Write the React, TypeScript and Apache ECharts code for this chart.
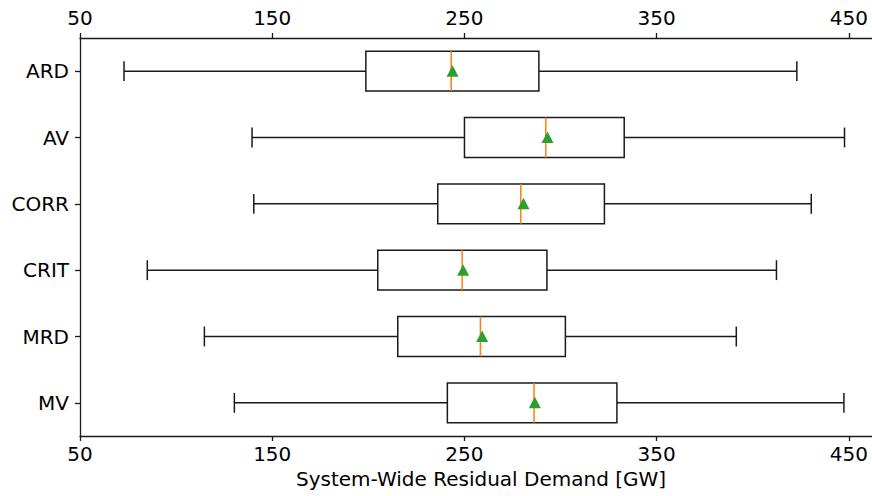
import React, { useEffect, useRef } from "react";
import * as echarts from "echarts";

const categories = ["ARD", "AV", "CORR", "CRIT", "MRD", "MV"];
const whiskerLow = [72.9, 139.5, 140.4, 85.0, 114.7, 130.3];
const q1 = [198.7, 250.0, 236.1, 204.9, 215.3, 241.1];
const medians = [243.1, 292.3, 279.3, 248.8, 258.3, 286.2];
const means = [243.8, 293.2, 280.7, 249.3, 259.2, 286.6];
const q3 = [288.7, 333.1, 322.8, 292.9, 302.5, 329.3];
const whiskerHigh = [422.9, 447.7, 430.4, 412.3, 391.4, 447.4];
const tickValues = [50, 150, 250, 350, 450];

const FONT = "DejaVu Sans";
const LINE = "#1a1a1a";
const FS = 20;

export default function App() {
  const ref = useRef<HTMLDivElement>(null);
  useEffect(() => {
    if (!ref.current) return;
    const chart = echarts.init(ref.current, undefined, { renderer: "svg" });
    const data = categories.map((_, i) => [
      i,
      whiskerLow[i],
      q1[i],
      medians[i],
      q3[i],
      whiskerHigh[i],
      means[i],
    ]);
    const xCommon = {
      type: "value" as const,
      min: 50,
      max: 462,
      splitLine: { show: false },
      axisLine: { show: true, lineStyle: { color: LINE, width: 1.3 } },
      axisTick: {
        show: true,
        length: 5,
        inside: false,
        customValues: tickValues,
        lineStyle: { color: LINE, width: 1.3 },
      },
      axisLabel: {
        customValues: tickValues,
        color: "#000",
        fontFamily: FONT,
        fontSize: FS,
      },
    };
    chart.setOption({
      animation: false,
      grid: { left: 80, top: 38, right: 0, bottom: 60, containLabel: false },
      xAxis: [
        {
          ...xCommon,
          position: "bottom",
          axisLabel: { ...xCommon.axisLabel, margin: 8 },
          name: "System-Wide Residual Demand [GW]",
          nameLocation: "middle",
          nameGap: 32,
          nameTextStyle: {
            color: "#000",
            fontFamily: FONT,
            fontSize: FS,
            padding: [0, 0, 0, 10],
          },
        },
        { ...xCommon, position: "top", axisLabel: { ...xCommon.axisLabel, margin: 10 } },
      ],
      yAxis: {
        type: "category",
        data: categories,
        inverse: true,
        boundaryGap: true,
        axisLine: { show: true, lineStyle: { color: LINE, width: 1.3 } },
        axisTick: {
          show: true,
          length: 5,
          alignWithLabel: true,
          lineStyle: { color: LINE, width: 1.3 },
        },
        axisLabel: { color: "#000", fontFamily: FONT, fontSize: FS, margin: 11 },
        splitLine: { show: false },
      },
      series: [
        {
          type: "custom",
          xAxisIndex: 0,
          yAxisIndex: 0,
          encode: { x: [1, 2, 3, 4, 5, 6], y: 0 },
          data,
          renderItem: (params: any, api: any) => {
            const idx = api.value(0);
            const lo = api.coord([api.value(1), idx]);
            const a = api.coord([api.value(2), idx]);
            const m = api.coord([api.value(3), idx]);
            const b = api.coord([api.value(4), idx]);
            const hi = api.coord([api.value(5), idx]);
            const mn = api.coord([api.value(6), idx]);
            const band = api.size([0, 1])[1];
            const bh = band * 0.6;
            const ch = bh / 2;
            const cy = lo[1];
            const ls = { stroke: LINE, lineWidth: 1.5, fill: "none" };
            return {
              type: "group",
              children: [
                { type: "line", shape: { x1: lo[0], y1: cy, x2: a[0], y2: cy }, style: ls },
                { type: "line", shape: { x1: b[0], y1: cy, x2: hi[0], y2: cy }, style: ls },
                { type: "line", shape: { x1: lo[0], y1: cy - ch / 2, x2: lo[0], y2: cy + ch / 2 }, style: ls },
                { type: "line", shape: { x1: hi[0], y1: cy - ch / 2, x2: hi[0], y2: cy + ch / 2 }, style: ls },
                {
                  type: "rect",
                  shape: { x: a[0], y: cy - bh / 2, width: b[0] - a[0], height: bh },
                  style: { stroke: LINE, lineWidth: 1.5, fill: "#fff" },
                },
                {
                  type: "line",
                  shape: { x1: m[0], y1: cy - bh / 2, x2: m[0], y2: cy + bh / 2 },
                  style: { stroke: "#ff7f0e", lineWidth: 1.5 },
                },
                {
                  type: "polygon",
                  shape: {
                    points: [
                      [mn[0], cy - 6],
                      [mn[0] - 6, cy + 5.5],
                      [mn[0] + 6, cy + 5.5],
                    ],
                  },
                  style: { fill: "#2ca02c", stroke: "none" },
                },
              ],
            };
          },
        },
      ],
    });
    return () => chart.dispose();
  }, []);
  return (
    <div
      ref={ref}
      style={{ position: "fixed", left: 0, top: 0, width: 872, height: 496, background: "#fff" }}
    />
  );
}
